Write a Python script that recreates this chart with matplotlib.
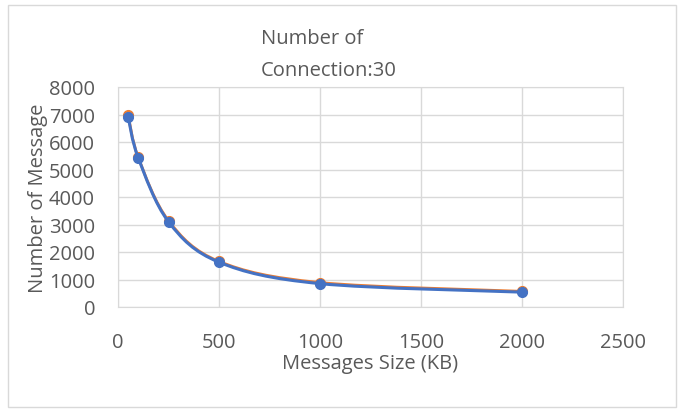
import numpy as np
import matplotlib
matplotlib.use("Agg")
import matplotlib.pyplot as plt
from matplotlib.path import Path
from matplotlib.patches import PathPatch, Rectangle

plt.rcParams['font.family'] = ['Open Sans', 'DejaVu Sans']

# data
msg_size = [50, 100, 250, 500, 1000, 2000]
series_a = [6990, 5450, 3140, 1660, 890, 570]   # orange (mostly hidden)
series_b = [6920, 5430, 3100, 1630, 850, 540]   # blue
x_ticks = [0, 500, 1000, 1500, 2000, 2500]
y_ticks = [0, 1000, 2000, 3000, 4000, 5000, 6000, 7000, 8000]

txt = '#595959'
fs = 14.5


def smooth_path(xs, ys, t=1/6):
    # Excel style smoothed line: Catmull-Rom turned into cubic Bezier segments
    xs = np.asarray(xs, float)
    ys = np.asarray(ys, float)
    verts = [(xs[0], ys[0])]
    codes = [Path.MOVETO]
    n = len(xs)
    for i in range(n - 1):
        p0 = (xs[max(i - 1, 0)], ys[max(i - 1, 0)])
        p1 = (xs[i], ys[i])
        p2 = (xs[i + 1], ys[i + 1])
        p3 = (xs[min(i + 2, n - 1)], ys[min(i + 2, n - 1)])
        c1 = (p1[0] + (p2[0] - p0[0]) * t, p1[1] + (p2[1] - p0[1]) * t)
        c2 = (p2[0] - (p3[0] - p1[0]) * t, p2[1] - (p3[1] - p1[1]) * t)
        verts += [c1, c2, p2]
        codes += [Path.CURVE4] * 3
    return Path(verts, codes)


fig = plt.figure(figsize=(6.83, 4.14), dpi=100)
fig.patches.append(Rectangle((8 / 683, 6 / 414), 668 / 683, 402 / 414,
                             transform=fig.transFigure, fill=False,
                             edgecolor='#d9d9d9', linewidth=1))
ax = fig.add_axes([118 / 683, 1 - 308 / 414, 505 / 683, 220 / 414])

ax.set_xlim(0, 2500)
ax.set_ylim(0, 8000)
ax.set_xticks(x_ticks)
ax.set_yticks(y_ticks)
ax.grid(True, color='#d9d9d9', linewidth=1)
ax.set_axisbelow(True)
for s in ax.spines.values():
    s.set_color('#d9d9d9')
ax.tick_params(length=0, labelsize=fs, colors=txt)
ax.tick_params(axis='x', pad=18)
ax.tick_params(axis='y', pad=16.5)

ax.add_patch(PathPatch(smooth_path(msg_size, series_a), fill=False,
                       edgecolor='#ed7d31', linewidth=2, zorder=2))
ax.plot(msg_size, series_a, 'o', color='#ed7d31', markersize=7, zorder=3)
ax.add_patch(PathPatch(smooth_path(msg_size, series_b), fill=False,
                       edgecolor='#4472c4', linewidth=2.2, zorder=4))
ax.plot(msg_size, series_b, 'o', color='#4472c4', markersize=7, zorder=5)

ax.set_xlabel('Messages Size (KB)', fontsize=fs, color=txt, labelpad=1)
ax.set_ylabel('Number of Message', fontsize=fs, color=txt, labelpad=1)
fig.text(261 / 683, 1 - 29 / 414, 'Number of\nConnection:30', ha='left', va='top',
         fontsize=fs, color=txt, linespacing=1.8)

fig.savefig('out.png', dpi=100, facecolor='white')
